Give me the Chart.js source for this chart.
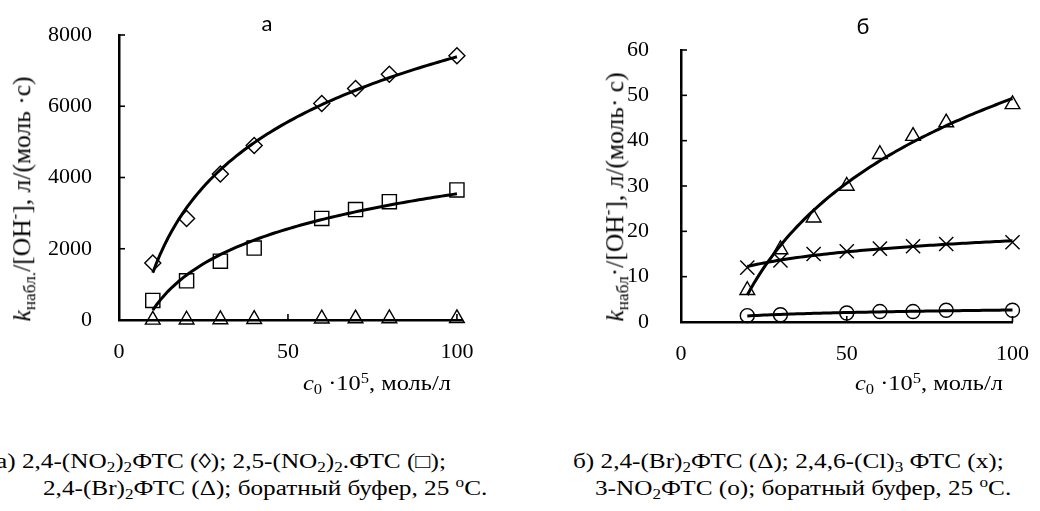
<!DOCTYPE html>
<html lang="ru">
<head>
<meta charset="utf-8">
<title>kнабл/[OH-] от c0</title>
<script src="https://cdn.jsdelivr.net/npm/chart.js@4.4.0/dist/chart.umd.min.js"></script>
<style>
  html, body { margin: 0; padding: 0; background: #fff; }
  #page { position: relative; width: 1040px; height: 511px; overflow: hidden; background: #fff; }
  .box { position: absolute; top: 0; width: 520px; height: 380px; }
  .txt { position: absolute; white-space: nowrap; color: #000; line-height: 1;
         font-family: 'Liberation Serif', 'Times New Roman', serif; transform-origin: 0 0; }
  .txt sub, .txt sup { font-size: 0.68em; line-height: 0; }
  .txt sub { vertical-align: -0.28em; }
  .txt sup { vertical-align: 0.55em; }
  .panel { font-family: Lato, 'Open Sans', sans-serif; font-size: 22px; transform: translateX(-50%); }
  .ytitle { font-size: 25.5px; transform-origin: 50% 50%; transform: translate(-50%, -50%) rotate(-90deg); }
  .xtitle { font-size: 20px; transform: scaleX(1.22); }
  .cap { font-size: 20.5px; transform: scaleX(1.23); }
</style>
</head>
<body>
<div id="page">
  <div class="box" style="left:0"><canvas id="chartA"></canvas></div>
  <div class="box" style="left:520px"><canvas id="chartB"></canvas></div>

  <div class="txt panel" style="left:267px; top:12px">а</div>
  <div class="txt panel" style="left:863px; top:15px">б</div>

  <div class="txt ytitle" style="left:22px; top:199px"><i>k</i><sub>набл.</sub>/[OH<sup>-</sup>], л/(моль ·с)</div>
  <div class="txt ytitle" style="left:615px; top:197px"><i>k</i><sub>набл</sub>·/[OH<sup>-</sup>], л/(моль· с)</div>

  <div class="txt xtitle" style="left:303px; top:373px"><i>c</i><sub>0</sub> ·10<sup>5</sup>, моль/л</div>
  <div class="txt xtitle" style="left:855px; top:373px"><i>c</i><sub>0</sub> ·10<sup>5</sup>, моль/л</div>

  <div class="txt cap" style="left:-4px; top:451px">а) 2,4-(NO<sub>2</sub>)<sub>2</sub>ФТС (◊); 2,5-(NO<sub>2</sub>)<sub>2</sub>.ФТС (□);</div>
  <div class="txt cap" style="left:43px; top:478px">2,4-(Br)<sub>2</sub>ФТС (Δ); боратный буфер, 25 <sup>o</sup>С.</div>
  <div class="txt cap" style="left:573px; top:451px">б) 2,4-(Br)<sub>2</sub>ФТС (Δ); 2,4,6-(Cl)<sub>3</sub> ФТС (x);</div>
  <div class="txt cap" style="left:595px; top:478px">3-NO<sub>2</sub>ФТС (o); боратный буфер, 25 <sup>o</sup>С.</div>
</div>

<script>
// панель а: c0·10^5, моль/л и kнабл/[OH-]
const xA = [10, 20, 30, 40, 60, 70, 80, 100];
const diamondA = [1600, 2850, 4100, 4900, 6080, 6500, 6900, 7420];
const squareA = [550, 1100, 1650, 2020, 2850, 3100, 3320, 3650];
const triangleA = [3, 7, 16, 23, 37, 41, 44, 48];

// панель б
const xTriB = [20, 30, 40, 50, 60, 70, 80, 100];
const triangleB = [7, 16, 23, 30, 37, 41, 44, 48];
const xCrossB = [20, 30, 40, 50, 60, 70, 80, 100];
const crossB = [12, 13.6, 15, 15.6, 16.2, 16.7, 17.2, 17.6];
const xCircleB = [20, 30, 50, 60, 70, 80, 100];
const circleB = [1.4, 1.6, 2.0, 2.3, 2.3, 2.6, 2.6];

const xTicks = [0, 50, 100];
const yTicksA = [0, 2000, 4000, 6000, 8000];
const yTicksB = [0, 10, 20, 30, 40, 50, 60];

const serif = "'Liberation Serif', 'Times New Roman', serif";

// логарифмическая линия тренда y = a·ln(x) + b (МНК)
function logTrend(xs, ys) {
  const n = xs.length;
  const lx = xs.map(Math.log);
  const mx = lx.reduce((s, v) => s + v, 0) / n;
  const my = ys.reduce((s, v) => s + v, 0) / n;
  let sxy = 0, sxx = 0;
  lx.forEach((v, i) => { sxy += (v - mx) * (ys[i] - my); sxx += (v - mx) * (v - mx); });
  const a = sxy / sxx, b = my - a * mx;
  const pts = [];
  const x0 = xs[0], x1 = xs[n - 1];
  for (let i = 0; i <= 80; i++) {
    const x = x0 + (x1 - x0) * i / 80;
    pts.push({ x: x, y: a * Math.log(x) + b });
  }
  return pts;
}

function markers(xs, ys, style, radius) {
  return {
    type: 'scatter',
    data: xs.map((x, i) => ({ x: x, y: ys[i] })),
    pointStyle: style,
    pointRadius: radius,
    pointHoverRadius: radius,
    pointBackgroundColor: 'rgba(0,0,0,0)',
    pointBorderColor: '#000',
    pointBorderWidth: 1.4,
    showLine: false,
    clip: false,
    order: 2
  };
}

function trend(xs, ys) {
  return {
    type: 'line',
    data: logTrend(xs, ys),
    borderColor: '#000',
    borderWidth: 3,
    pointRadius: 0,
    fill: false,
    tension: 0,
    clip: false,
    order: 1
  };
}

// короткие засечки внутрь области построения
const innerTicks = {
  id: 'innerTicks',
  afterDraw(chart) {
    const { ctx, chartArea: area, scales } = chart;
    ctx.save();
    ctx.strokeStyle = '#000';
    ctx.lineWidth = 1.6;
    scales.x.ticks.forEach(t => {
      if (t.value === scales.x.min) return;
      const px = scales.x.getPixelForValue(t.value);
      ctx.beginPath();
      ctx.moveTo(px, area.bottom);
      ctx.lineTo(px, area.bottom - 6);
      ctx.stroke();
    });
    scales.y.ticks.forEach(t => {
      if (t.value === scales.y.min) return;
      const py = scales.y.getPixelForValue(t.value);
      ctx.beginPath();
      ctx.moveTo(area.left, py);
      ctx.lineTo(area.left + 6, py);
      ctx.stroke();
    });
    ctx.restore();
  }
};

function drawPanel(id, datasets, yTicks, xMax, area, labelGap) {
  return new Chart(document.getElementById(id), {
    type: 'scatter',
    data: { datasets: datasets },
    options: {
      responsive: true,
      maintainAspectRatio: false,
      animation: false,
      events: [],
      layout: { padding: { left: 0, top: area.top, right: 520 - area.right, bottom: 380 - area.bottom - 40 } },
      plugins: { legend: { display: false }, tooltip: { enabled: false } },
      scales: {
        x: {
          type: 'linear', min: 0, max: xMax,
          afterBuildTicks: s => { s.ticks = xTicks.map(v => ({ value: v })); },
          afterFit: s => { s.height = 40; },
          grid: { display: false },
          border: { display: true, color: '#000', width: 2.5 },
          ticks: { color: '#000', font: { family: serif, size: 22 }, padding: 11, callback: v => String(v) }
        },
        y: {
          type: 'linear', min: 0, max: yTicks[yTicks.length - 1],
          afterBuildTicks: s => { s.ticks = yTicks.map(v => ({ value: v })); },
          afterFit: s => { s.width = area.left; },
          grid: { display: false },
          border: { display: true, color: '#000', width: 2.5 },
          ticks: { color: '#000', font: { family: serif, size: 22 }, padding: labelGap, callback: v => String(v) }
        }
      }
    },
    plugins: [innerTicks]
  });
}

drawPanel('chartA', [
  trend(xA, diamondA),
  trend(xA, squareA),
  markers(xA, diamondA, 'rectRot', 8),
  markers(xA, squareA, 'rect', 10),
  markers(xA, triangleA, 'triangle', 8.5)
], yTicksA, 101.5, { left: 119, right: 462, top: 35, bottom: 320 }, 19);

drawPanel('chartB', [
  trend(xTriB, triangleB),
  trend(xCrossB, crossB),
  trend(xCircleB, circleB),
  markers(xTriB, triangleB, 'triangle', 8.5),
  markers(xCrossB, crossB, 'crossRot', 10),
  markers(xCircleB, circleB, 'circle', 7)
], yTicksB, 100, { left: 161, right: 499, top: 50, bottom: 322 }, 24);
</script>
</body>
</html>
